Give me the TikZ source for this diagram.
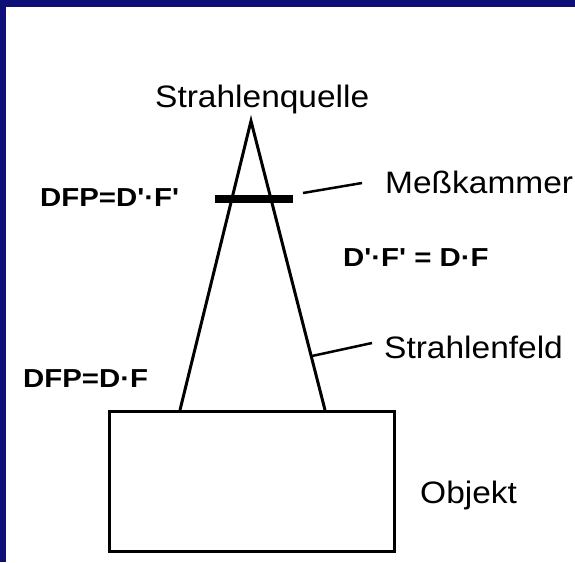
\documentclass[tikz,border=0pt]{standalone}
\usepackage{fontspec}
% plain families without TeX ligature mapping, so ' stays a straight tick
\newfontfamily\lblfont{Liberation Sans}[FakeStretch=1.08]
\newfontfamily\frmfont{Liberation Sans}[FakeStretch=1.13]
\definecolor{frameblue}{RGB}{12,16,120}
\begin{document}
\begin{tikzpicture}[x=1pt,y=-1pt,
  lbl/.style={inner sep=0pt,anchor=base west,font=\lblfont\fontsize{31}{31}\selectfont},
  formula/.style={inner sep=0pt,anchor=base west,font=\frmfont\fontsize{26}{26}\selectfont\bfseries},
  beam/.style={line width=3pt,line join=miter},
  leader/.style={line width=2.5pt}]
  \useasboundingbox (0,0) rectangle (575,562);
  % page background and blue frame along the top and left edges
  \fill[white] (0,0) rectangle (575,562);
  \fill[frameblue] (0,0) rectangle (575,7);
  \fill[frameblue] (0,0) rectangle (6,562);

  % source point, beam cone and the object below it
  \coordinate (apex) at (251,121);
  \coordinate (footL) at (180,410);
  \coordinate (footR) at (325,410);
  \draw[beam] (footL) -- (apex) -- (footR);
  \node[draw,line width=3pt,minimum width=285pt,minimum height=140pt,anchor=north west,inner sep=0pt] (obj) at (108,410) {};

  % ionisation chamber across the cone
  \coordinate (chamL) at (215,199);
  \coordinate (chamR) at (293,199);
  \draw[line width=8pt] (chamL) -- (chamR);

  % labels
  \node[lbl] (quelle) at (155,107) {Strahlenquelle};
  \node[lbl] (kammer) at (385,193) {Meßkammer};
  \node[lbl] (feld) at (384,358) {Strahlenfeld};
  \node[lbl] (objekt) at (420,503) {Objekt};
  \node[formula] (dfpA) at (40,206) {DFP=D'·F'};
  \node[formula] (gleich) at (343,266) {D'·F' = D·F};
  \node[formula] (dfpB) at (23,387) {DFP=D·F};

  % leader lines
  \coordinate (kamStart) at (303,193);
  \coordinate (kamEnd) at (362,183);
  \draw[leader] (kamStart) -- (kamEnd);
  \coordinate (feldStart) at (312,356);
  \coordinate (feldEnd) at (372,343);
  \draw[leader] (feldStart) -- (feldEnd);
\end{tikzpicture}
\end{document}
